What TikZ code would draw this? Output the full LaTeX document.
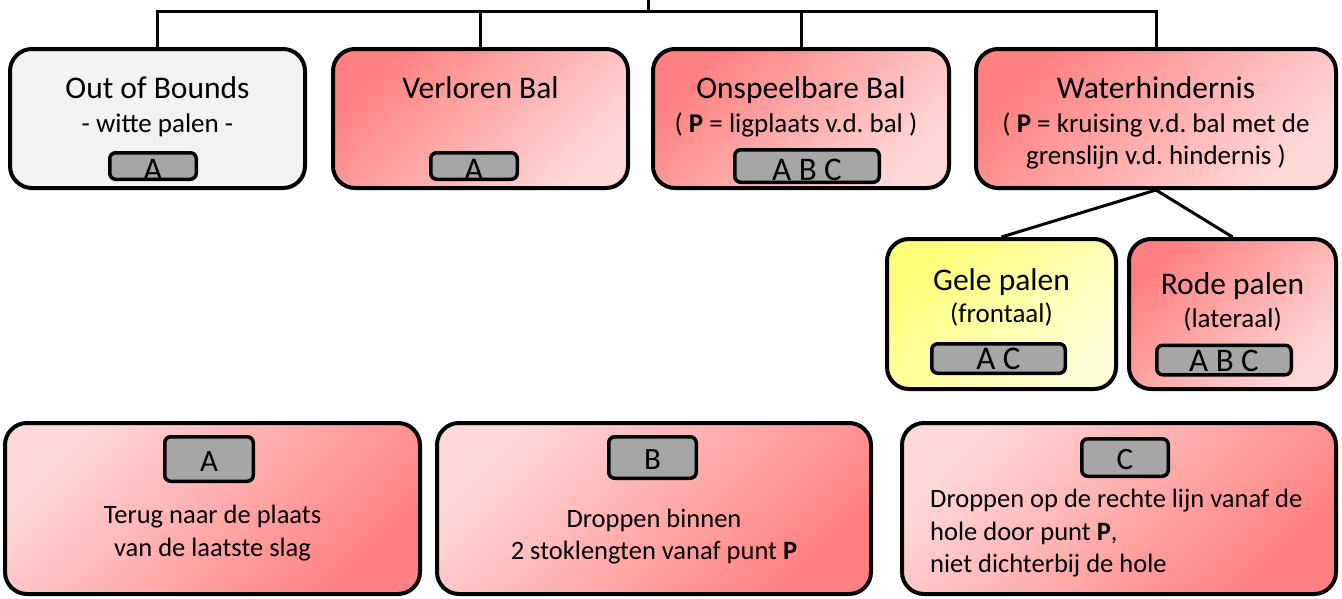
\documentclass[tikz,border=0pt]{standalone}
\usepackage{fontspec}
\setmainfont{Carlito}
\frenchspacing
\definecolor{redD}{RGB}{255,128,128}
\definecolor{redL}{RGB}{255,216,216}
\definecolor{yelD}{RGB}{255,255,120}
\definecolor{yelL}{RGB}{255,255,216}
\definecolor{oobfill}{RGB}{242,242,242}
\definecolor{taggray}{RGB}{166,166,166}
\begin{document}
\begin{tikzpicture}[x=1pt,y=-1pt,
  box/.style={draw=black, line width=4pt, rounded corners=22pt, inner sep=0pt},
  redbox/.style={box, top color=redD, bottom color=redL, shading angle=45},
  redboxb/.style={box, top color=redL, bottom color=redD, shading angle=45},
  greybox/.style={box, fill=oobfill},
  yelbox/.style={box, top color=yelD, bottom color=yelL, shading angle=45},
  tagbox/.style={draw=black, line width=3.5pt, rounded corners=6pt, fill=taggray, inner sep=0pt},
  conn/.style={draw=black, line width=3pt},
  ttl/.style={font=\fontsize{31.5}{37}\selectfont, inner sep=0pt, anchor=base},
  sub/.style={font=\fontsize{27}{32}\selectfont, inner sep=0pt, anchor=base},
  body/.style={font=\fontsize{26.5}{33}\selectfont, inner sep=0pt, anchor=base},
  taglbl/.style={font=\fontsize{33}{38}\selectfont, inner sep=0pt, anchor=base},
  taglblb/.style={font=\fontsize{31}{36}\selectfont, inner sep=0pt, anchor=base},
]
\useasboundingbox (0,0) rectangle (1342,598);

% ---- top row boxes
\node[greybox, minimum width=295pt, minimum height=139pt] (oob) at (157.5,118.5) {};
\node[redbox, minimum width=295pt, minimum height=139pt] (verl) at (480.5,118.5) {};
\node[redbox, minimum width=296pt, minimum height=139pt] (ons) at (801,118.5) {};
\node[redbox, minimum width=360pt, minimum height=139pt] (wat) at (1156,118.5) {};

% ---- water sub boxes
\node[yelbox, minimum width=229pt, minimum height=150pt] (gele) at (1001.5,314) {};
\node[redbox, minimum width=207pt, minimum height=150pt] (rode) at (1232.5,314) {};

% ---- bottom boxes
\node[redboxb, minimum width=415pt, minimum height=171pt] (boxA) at (212.5,508.5) {};
\node[redboxb, minimum width=434pt, minimum height=171pt] (boxB) at (654,508.5) {};
\node[redboxb, minimum width=434pt, minimum height=171pt] (boxC) at (1119,508.5) {};

% ---- connectors
\coordinate (root) at (648,0);
\coordinate (bar) at (648,11);
\draw[conn] (root) -- (bar);
\draw[conn] (oob.north) -- (oob.north |- bar) -- (wat.north |- bar) -- (wat.north);
\draw[conn] (verl.north) -- (verl.north |- bar);
\draw[conn] (ons.north) -- (ons.north |- bar);
\draw[conn] (wat.south) -- (gele.north);
\draw[conn] (wat.south) -- (rode.north);

% ---- texts top row
\node[ttl] (oobT) at (157.5,98) {Out of Bounds};
\node[sub] (oobS) at (157.5,132) {- witte palen -};
\node[ttl] (verlT) at (480.5,98) {Verloren Bal};
\node[ttl] (onsT) at (801,98) {Onspeelbare Bal};
\node[sub] (onsS) at (796,132) {( \textbf{P} = ligplaats v.d. bal )};
\node[ttl] (watT) at (1156,98) {Waterhindernis};
\node[sub] (watS1) at (1156,132) {( \textbf{P} = kruising v.d. bal met de};
\node[sub] (watS2) at (1156,164) {grenslijn v.d. hindernis )};

% ---- tags top row
\node[tagbox, minimum width=86.5pt, minimum height=26.5pt] (oobTag) at (153,166) {};
\node[taglbl] (oobTagL) at (153,180) {A};
\node[tagbox, minimum width=86.5pt, minimum height=26.5pt] (verlTag) at (474,166) {};
\node[taglbl] (verlTagL) at (474,180) {A};
\node[tagbox, minimum width=144.5pt, minimum height=32.5pt] (onsTag) at (807,166) {};
\node[taglbl] (onsTagL) at (807,180) {A B C};

% ---- water sub texts
\node[ttl] (geleT) at (1001.5,290) {Gele palen};
\node[sub] (geleS) at (1001.5,322) {(frontaal)};
\node[tagbox, minimum width=133.5pt, minimum height=29.5pt] (geleTag) at (998.5,358.5) {};
\node[taglbl] (geleTagL) at (998.5,369) {A C};
\node[ttl] (rodeT) at (1232.5,294) {Rode palen};
\node[sub] (rodeS) at (1232.5,327) {(lateraal)};
\node[tagbox, minimum width=134.5pt, minimum height=29.5pt] (rodeTag) at (1224,360) {};
\node[taglbl] (rodeTagL) at (1224,371) {A B C};

% ---- bottom texts
\node[tagbox, minimum width=88.5pt, minimum height=44.5pt] (tagA) at (209,459) {};
\node[taglblb] (tagAL) at (209,471) {A};
\node[body] (aL1) at (212.5,523) {Terug naar de plaats};
\node[body] (aL2) at (212.5,556) {van de laatste slag};

\node[tagbox, minimum width=87.5pt, minimum height=41.5pt] (tagB) at (652.5,457.5) {};
\node[taglblb] (tagBL) at (652.5,469) {B};
\node[body] (bL1) at (654,527) {Droppen binnen};
\node[body] (bL2) at (654,559) {2 stoklengten vanaf punt \textbf{P}};

\node[tagbox, minimum width=86.5pt, minimum height=37.5pt] (tagC) at (1125,457.5) {};
\node[taglblb] (tagCL) at (1125,469) {C};
\node[body, anchor=base west] (cL1) at (930,507) {Droppen op de rechte lijn vanaf de};
\node[body, anchor=base west] (cL2) at (930,540) {hole door punt \textbf{P},};
\node[body, anchor=base west] (cL3) at (930,572) {niet dichterbij de hole};
\end{tikzpicture}
\end{document}
